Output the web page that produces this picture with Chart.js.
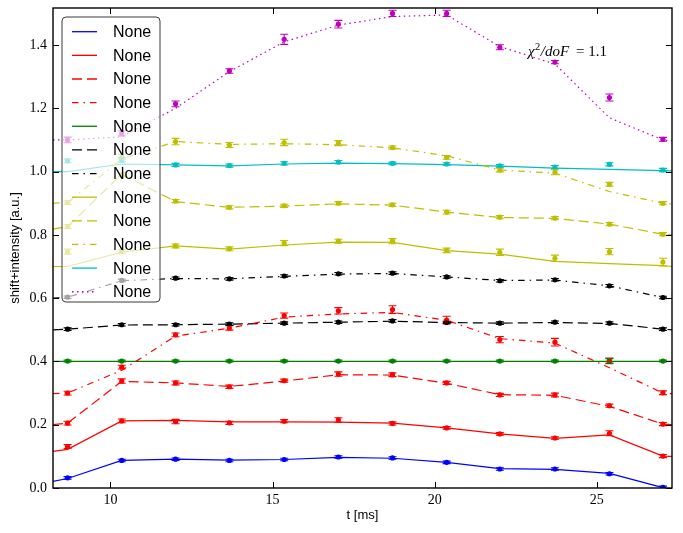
<!DOCTYPE html>
<html>
<head>
<meta charset="utf-8">
<script src="https://cdn.jsdelivr.net/npm/chart.js@4.4.0/dist/chart.umd.min.js"></script>
<style>
html,body{margin:0;padding:0;background:#ffffff;}
#wrap{width:683px;height:533px;position:relative;}
</style>
</head>
<body>
<div id="wrap"><canvas id="c" width="683" height="533"></canvas></div>
<script>
// ---------- data ----------
const xValues = [8.68, 10.35, 12.01, 13.67, 15.36, 17.03, 18.70, 20.37, 22.01, 23.71, 25.39, 27.04];
const xMin = 8.23, xMax = 27.32;
const yMin = 0.0, yMax = 1.517;
const xTickValues = [10, 15, 20, 25];
const yTickValues = [0.0, 0.2, 0.4, 0.6, 0.8, 1.0, 1.2, 1.4];
const xTitle = 't [ms]';
const yTitle = 'shift+intensity [a.u.]';
const annotationText = ['χ', '2', '/doF', ' = 1.1'];
const legendLabels = ['None','None','None','None','None','None','None','None','None','None','None','None'];

// fit lines: [left edge, one value per x, right edge]
const blueFit   = [0.021, 0.030, 0.087, 0.091, 0.088, 0.090, 0.097, 0.094, 0.081, 0.061, 0.059, 0.046, 0.001, -0.004];
const bluePts   = [0.032, 0.087, 0.091, 0.087, 0.090, 0.098, 0.095, 0.081, 0.060, 0.060, 0.045, 0.002];
const blueErr   = [0.004, 0.004, 0.004, 0.004, 0.004, 0.004, 0.004, 0.004, 0.004, 0.004, 0.004, 0.004];

const redFit    = [0.116, 0.122, 0.212, 0.214, 0.209, 0.209, 0.208, 0.205, 0.190, 0.171, 0.157, 0.168, 0.101, 0.100];
const redPts    = [0.131, 0.212, 0.210, 0.206, 0.211, 0.215, 0.204, 0.190, 0.171, 0.158, 0.173, 0.101];
const redErr    = [0.006, 0.006, 0.007, 0.005, 0.005, 0.007, 0.005, 0.004, 0.004, 0.004, 0.008, 0.005];

const redDashFit = [0.200, 0.205, 0.337, 0.332, 0.321, 0.338, 0.358, 0.357, 0.331, 0.295, 0.293, 0.258, 0.202, 0.200];
const redDashPts = [0.205, 0.338, 0.332, 0.320, 0.339, 0.360, 0.358, 0.332, 0.294, 0.294, 0.260, 0.202];
const redDashErr = [0.006, 0.007, 0.006, 0.005, 0.005, 0.007, 0.006, 0.005, 0.005, 0.006, 0.005, 0.005];

const redDotFit = [0.298, 0.300, 0.372, 0.480, 0.505, 0.540, 0.550, 0.555, 0.530, 0.472, 0.458, 0.380, 0.300, 0.298];
const redDotPts = [0.300, 0.382, 0.484, 0.506, 0.545, 0.560, 0.564, 0.531, 0.469, 0.461, 0.403, 0.301];
const redDotErr = [0.006, 0.006, 0.006, 0.007, 0.008, 0.010, 0.012, 0.012, 0.010, 0.012, 0.008, 0.006];

const greenFit  = [0.400, 0.400, 0.400, 0.400, 0.400, 0.400, 0.400, 0.400, 0.400, 0.400, 0.400, 0.400, 0.400, 0.400];
const greenPts  = [0.401, 0.401, 0.401, 0.401, 0.401, 0.401, 0.401, 0.401, 0.401, 0.401, 0.401, 0.401];
const greenErr  = [0.003, 0.003, 0.003, 0.003, 0.003, 0.003, 0.003, 0.003, 0.003, 0.003, 0.008, 0.003];

const blackDashFit = [0.500, 0.502, 0.515, 0.516, 0.518, 0.521, 0.524, 0.527, 0.523, 0.521, 0.523, 0.520, 0.502, 0.500];
const blackDashPts = [0.502, 0.516, 0.516, 0.518, 0.521, 0.524, 0.528, 0.523, 0.521, 0.524, 0.521, 0.502];
const blackDashErr = [0.004, 0.004, 0.004, 0.004, 0.004, 0.004, 0.004, 0.004, 0.004, 0.004, 0.004, 0.004];

const blackDotFit = [0.600, 0.603, 0.655, 0.662, 0.661, 0.669, 0.676, 0.678, 0.667, 0.656, 0.657, 0.639, 0.602, 0.600];
const blackDotPts = [0.603, 0.656, 0.663, 0.661, 0.670, 0.677, 0.679, 0.667, 0.655, 0.658, 0.639, 0.602];
const blackDotErr = [0.004, 0.004, 0.004, 0.004, 0.004, 0.004, 0.004, 0.004, 0.004, 0.004, 0.004, 0.004];

const yellowFit = [0.700, 0.700, 0.745, 0.765, 0.755, 0.768, 0.777, 0.776, 0.750, 0.739, 0.716, 0.709, 0.703, 0.700];
const yellowPts = [0.747, 0.748, 0.765, 0.756, 0.774, 0.780, 0.780, 0.751, 0.745, 0.726, 0.747, 0.714];
const yellowErr = [0.008, 0.006, 0.006, 0.006, 0.008, 0.006, 0.008, 0.007, 0.010, 0.010, 0.010, 0.012];

const yellowDashFit = [0.818, 0.826, 0.992, 0.905, 0.887, 0.891, 0.898, 0.894, 0.872, 0.855, 0.852, 0.834, 0.802, 0.800];
const yellowDashPts = [0.826, 0.990, 0.907, 0.887, 0.892, 0.900, 0.895, 0.872, 0.856, 0.853, 0.834, 0.802];
const yellowDashErr = [0.006, 0.006, 0.005, 0.005, 0.005, 0.005, 0.005, 0.006, 0.005, 0.005, 0.005, 0.005];

const yellowDotFit = [0.900, 0.902, 1.040, 1.095, 1.086, 1.088, 1.085, 1.075, 1.050, 1.005, 0.995, 0.937, 0.900, 0.898];
const yellowDotPts = [0.902, 1.047, 1.095, 1.084, 1.092, 1.090, 1.076, 1.045, 1.005, 0.998, 0.960, 0.900];
const yellowDotErr = [0.006, 0.008, 0.010, 0.008, 0.010, 0.008, 0.005, 0.006, 0.006, 0.008, 0.006, 0.005];

const cyanFit   = [1.000, 1.000, 1.024, 1.021, 1.018, 1.024, 1.027, 1.025, 1.022, 1.017, 1.011, 1.007, 1.003, 1.002];
const cyanPts   = [1.034, 1.037, 1.021, 1.019, 1.026, 1.030, 1.026, 1.024, 1.018, 1.014, 1.023, 1.005];
const cyanErr   = [0.006, 0.007, 0.005, 0.005, 0.005, 0.005, 0.004, 0.004, 0.004, 0.005, 0.005, 0.005];

const magentaFit = [1.100, 1.100, 1.110, 1.200, 1.316, 1.410, 1.463, 1.490, 1.495, 1.395, 1.340, 1.170, 1.100, 1.097];
const magentaPts = [1.100, 1.121, 1.214, 1.318, 1.418, 1.466, 1.500, 1.500, 1.393, 1.346, 1.234, 1.102];
const magentaErr = [0.009, 0.008, 0.009, 0.007, 0.016, 0.012, 0.010, 0.010, 0.008, 0.005, 0.011, 0.006];

// ---------- styles ----------
const C = {b:'#0000ff', r:'#ff0000', g:'#008000', k:'#000000', y:'#bfbf00', c:'#00bfbf', m:'#bf00bf'};
const DASH = [10, 5], DASHDOT = [6.5, 5, 1.5, 5], DOT = [1.5, 3.5];
const series = [
  {fit: blueFit, pts: bluePts, err: blueErr, color: C.b, dash: []},
  {fit: redFit, pts: redPts, err: redErr, color: C.r, dash: []},
  {fit: redDashFit, pts: redDashPts, err: redDashErr, color: C.r, dash: DASH},
  {fit: redDotFit, pts: redDotPts, err: redDotErr, color: C.r, dash: DASHDOT},
  {fit: greenFit, pts: greenPts, err: greenErr, color: C.g, dash: []},
  {fit: blackDashFit, pts: blackDashPts, err: blackDashErr, color: C.k, dash: DASH},
  {fit: blackDotFit, pts: blackDotPts, err: blackDotErr, color: C.k, dash: DASHDOT},
  {fit: yellowFit, pts: yellowPts, err: yellowErr, color: C.y, dash: []},
  {fit: yellowDashFit, pts: yellowDashPts, err: yellowDashErr, color: C.y, dash: DASH},
  {fit: yellowDotFit, pts: yellowDotPts, err: yellowDotErr, color: C.y, dash: DASHDOT},
  {fit: cyanFit, pts: cyanPts, err: cyanErr, color: C.c, dash: []},
  {fit: magentaFit, pts: magentaPts, err: magentaErr, color: C.m, dash: DOT}
];

const fitX = [xMin].concat(xValues, [xMax]);
const datasets = [];
series.forEach((s, i) => {
  datasets.push({
    label: legendLabels[i], isFit: true,
    data: fitX.map((x, j) => ({x: x, y: s.fit[j]})),
    showLine: true, borderColor: s.color, borderWidth: 1.2, borderDash: s.dash,
    pointRadius: 0, pointHoverRadius: 0, tension: 0, fill: false
  });
  datasets.push({
    label: legendLabels[i] + ' data', isFit: false, errors: s.err,
    data: xValues.map((x, j) => ({x: x, y: s.pts[j]})),
    showLine: false, pointRadius: 2.6, pointHoverRadius: 2.6,
    pointBackgroundColor: s.color, pointBorderWidth: 0, borderColor: s.color
  });
});

const SANS = '"Liberation Sans", Arial, sans-serif';
const SERIF = '"Liberation Serif", "DejaVu Serif", serif';

const mplPlugin = {
  id: 'mplStyle',
  afterDatasetsDraw(chart) {
    const ctx = chart.ctx, xs = chart.scales.x, ys = chart.scales.y, a = chart.chartArea;
    ctx.save();
    ctx.beginPath(); ctx.rect(a.left, a.top, a.right - a.left, a.bottom - a.top); ctx.clip();
    chart.data.datasets.forEach(ds => {
      if (!ds.errors) return;
      ctx.strokeStyle = ds.borderColor; ctx.lineWidth = 1.1; ctx.setLineDash([]);
      ds.data.forEach((p, j) => {
        const px = xs.getPixelForValue(p.x);
        const y1 = ys.getPixelForValue(p.y - ds.errors[j]);
        const y2 = ys.getPixelForValue(p.y + ds.errors[j]);
        ctx.beginPath();
        ctx.moveTo(px, y1); ctx.lineTo(px, y2);
        ctx.moveTo(px - 4, y1); ctx.lineTo(px + 4, y1);
        ctx.moveTo(px - 4, y2); ctx.lineTo(px + 4, y2);
        ctx.stroke();
      });
    });
    ctx.restore();
  },
  afterDraw(chart) {
    const ctx = chart.ctx, xs = chart.scales.x, ys = chart.scales.y, a = chart.chartArea;
    ctx.save();
    // inward ticks
    ctx.strokeStyle = '#000'; ctx.lineWidth = 1; ctx.setLineDash([]);
    ctx.beginPath();
    xTickValues.forEach(v => {
      const px = Math.round(xs.getPixelForValue(v)) + 0.5;
      ctx.moveTo(px, a.bottom); ctx.lineTo(px, a.bottom - 6);
      ctx.moveTo(px, a.top); ctx.lineTo(px, a.top + 6);
    });
    yTickValues.forEach(v => {
      const py = Math.round(ys.getPixelForValue(v)) + 0.5;
      ctx.moveTo(a.left, py); ctx.lineTo(a.left + 6, py);
      ctx.moveTo(a.right, py); ctx.lineTo(a.right - 6, py);
    });
    ctx.stroke();
    // frame
    ctx.lineWidth = 1.4;
    ctx.strokeRect(a.left, a.top, a.right - a.left, a.bottom - a.top);

    // legend
    const L = {x0: 62, y0: 17, x1: 160, y1: 302, r: 4};
    ctx.beginPath();
    ctx.moveTo(L.x0 + L.r, L.y0);
    ctx.arcTo(L.x1, L.y0, L.x1, L.y1, L.r);
    ctx.arcTo(L.x1, L.y1, L.x0, L.y1, L.r);
    ctx.arcTo(L.x0, L.y1, L.x0, L.y0, L.r);
    ctx.arcTo(L.x0, L.y0, L.x1, L.y0, L.r);
    ctx.closePath();
    ctx.fillStyle = 'rgba(255,255,255,0.64)';
    ctx.fill();
    ctx.strokeStyle = '#3a3a3a'; ctx.lineWidth = 1;
    ctx.stroke();
    const fits = chart.data.datasets.filter(d => d.isFit);
    ctx.font = '16px ' + SANS; ctx.textBaseline = 'middle'; ctx.textAlign = 'left';
    fits.forEach((d, i) => {
      const yy = 31.7 + i * 23.64;
      ctx.strokeStyle = d.borderColor; ctx.lineWidth = 1.3; ctx.setLineDash(d.borderDash);
      ctx.beginPath(); ctx.moveTo(72, yy); ctx.lineTo(97, yy); ctx.stroke();
      ctx.setLineDash([]);
      ctx.fillStyle = '#000';
      ctx.fillText(d.label, 113, yy + 1);
    });

    // annotation chi^2/doF
    ctx.fillStyle = '#000'; ctx.textBaseline = 'alphabetic';
    let tx = 528; const base = 56;
    ctx.font = 'italic 15px ' + SERIF; ctx.fillText(annotationText[0], tx, base); tx += ctx.measureText(annotationText[0]).width + 0.5;
    ctx.font = '10.5px ' + SERIF; ctx.fillText(annotationText[1], tx, base - 6); tx += ctx.measureText(annotationText[1]).width + 0.5;
    ctx.font = 'italic 15px ' + SERIF; ctx.fillText(annotationText[2], tx, base); tx += ctx.measureText(annotationText[2]).width + 3;
    ctx.font = '15px ' + SERIF; ctx.fillText(annotationText[3], tx, base);

    // axis titles
    ctx.font = '13px ' + SANS; ctx.fillStyle = '#000';
    ctx.textAlign = 'center'; ctx.textBaseline = 'middle';
    ctx.fillText(xTitle, (a.left + a.right) / 2, 515);
    ctx.translate(15, (a.top + a.bottom) / 2);
    ctx.rotate(-Math.PI / 2);
    ctx.fillText(yTitle, 0, 0);
    ctx.restore();
  }
};

new Chart(document.getElementById('c'), {
  type: 'scatter',
  data: {datasets: datasets},
  plugins: [mplPlugin],
  options: {
    responsive: false, animation: false, devicePixelRatio: 1,
    layout: {padding: {left: 0, right: 11, top: 8, bottom: 0}},
    plugins: {legend: {display: false}, tooltip: {enabled: false}},
    events: [],
    scales: {
      x: {
        type: 'linear', min: xMin, max: xMax,
        grid: {display: true, drawOnChartArea: false, drawTicks: true, tickLength: 5, tickColor: 'rgba(0,0,0,0)', color: 'rgba(0,0,0,0)'},
        border: {display: false},
        afterBuildTicks: s => { s.ticks = xTickValues.map(v => ({value: v})); },
        afterFit: s => { s.height = 45; },
        ticks: {padding: 0, color: '#000', font: {family: SERIF, size: 14, lineHeight: 1},
                callback: v => String(v), maxRotation: 0, autoSkip: false}
      },
      y: {
        type: 'linear', min: yMin, max: yMax,
        grid: {display: true, drawOnChartArea: false, drawTicks: true, tickLength: 6, tickColor: 'rgba(0,0,0,0)', color: 'rgba(0,0,0,0)'},
        border: {display: false},
        afterBuildTicks: s => { s.ticks = yTickValues.map(v => ({value: v})); },
        afterFit: s => { s.width = 53; },
        ticks: {padding: 0, color: '#000', font: {family: SERIF, size: 14, lineHeight: 1},
                callback: v => Number(v).toFixed(1), autoSkip: false}
      }
    }
  }
});
</script>
</body>
</html>
